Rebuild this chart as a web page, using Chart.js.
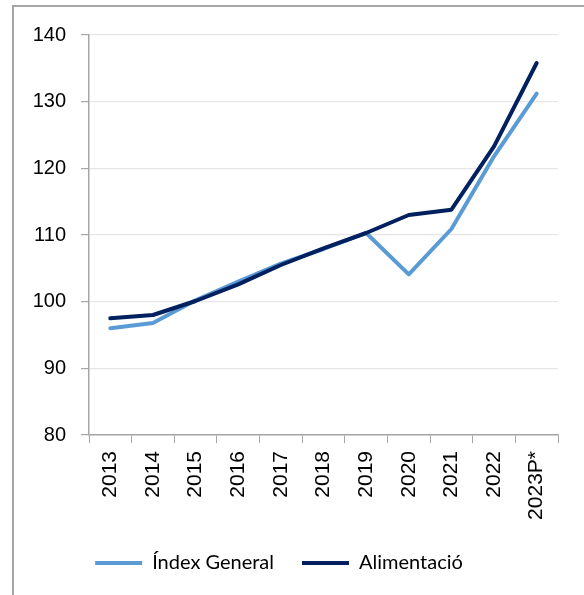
<!DOCTYPE html>
<html>
<head>
<meta charset="utf-8">
<script src="https://cdn.jsdelivr.net/npm/chart.js@4/dist/chart.umd.min.js"></script>
<style>
  html, body { margin: 0; padding: 0; background: #ffffff; }
  #wrap { position: relative; width: 584px; height: 595px; overflow: hidden; }
  #frame { position: absolute; left: 12px; top: 5px; width: 600px; height: 620px;
           border-left: 2px solid #a6a6a6; border-top: 2px solid #a6a6a6; box-sizing: border-box; }
  canvas { position: absolute; left: 0; top: 0; }
</style>
</head>
<body>
<div id="wrap">
  <div id="frame"></div>
  <canvas id="c" width="584" height="595"></canvas>
</div>
<script>
const categories = ['2013','2014','2015','2016','2017','2018','2019','2020','2021','2022','2023P*'];
const indexGeneral = [96.0, 96.8, 100.2, 103.0, 105.7, 107.9, 110.3, 104.1, 110.9, 121.8, 131.2];
const alimentacio  = [97.5, 98.0, 100.1, 102.6, 105.5, 108.0, 110.3, 113.0, 113.8, 123.3, 135.8];
const yTicks = { min: 80, max: 140, step: 10 };
const seriesNames = ['Índex General', 'Alimentació'];

new Chart(document.getElementById('c'), {
  type: 'line',
  data: {
    labels: categories,
    datasets: [
      { label: seriesNames[0], data: indexGeneral, borderColor: '#5B9BD5', backgroundColor: '#5B9BD5',
        borderWidth: 4, pointRadius: 0, tension: 0, order: 1, pointStyle: 'line',
        borderCapStyle: 'round', borderJoinStyle: 'round' },
      { label: seriesNames[1], data: alimentacio, borderColor: '#002060', backgroundColor: '#002060',
        borderWidth: 4, pointRadius: 0, tension: 0, order: 0, pointStyle: 'line',
        borderCapStyle: 'round', borderJoinStyle: 'round' }
    ]
  },
  options: {
    responsive: false,
    animation: false,
    events: [],
    layout: { padding: { left: 0, right: 26, top: 35, bottom: 12 } },
    plugins: {
      tooltip: { enabled: false },
      legend: {
        position: 'bottom',
        align: 'center',
        labels: {
          usePointStyle: true,
          pointStyleWidth: 47,
          padding: 28,
          color: '#000000',
          font: { family: 'Lato, "Open Sans", sans-serif', size: 20 },
          sort: (a, b) => a.datasetIndex - b.datasetIndex
        }
      }
    },
    scales: {
      x: {
        offset: true,
        grid: { display: true, drawOnChartArea: false, offset: true, tickLength: 8, color: '#a6a6a6', tickColor: '#a6a6a6' },
        border: { color: '#a6a6a6', width: 1.5 },
        ticks: { minRotation: 90, maxRotation: 90, padding: 8, color: '#000000', autoSkip: false,
                 font: { family: '"Liberation Sans", Arial, sans-serif', size: 21 } },
        afterFit: (s) => { s.height = 90; }
      },
      y: {
        min: yTicks.min, max: yTicks.max,
        grid: { color: '#e6e6e6', tickColor: '#a6a6a6', tickLength: 8, lineWidth: 1.2 },
        border: { color: '#a6a6a6', width: 1.5 },
        ticks: { stepSize: yTicks.step, padding: 15, color: '#000000',
                 font: { family: '"Liberation Sans", Arial, sans-serif', size: 20 } },
        afterFit: (s) => { s.width = 89; }
      }
    }
  }
});
</script>
</body>
</html>
